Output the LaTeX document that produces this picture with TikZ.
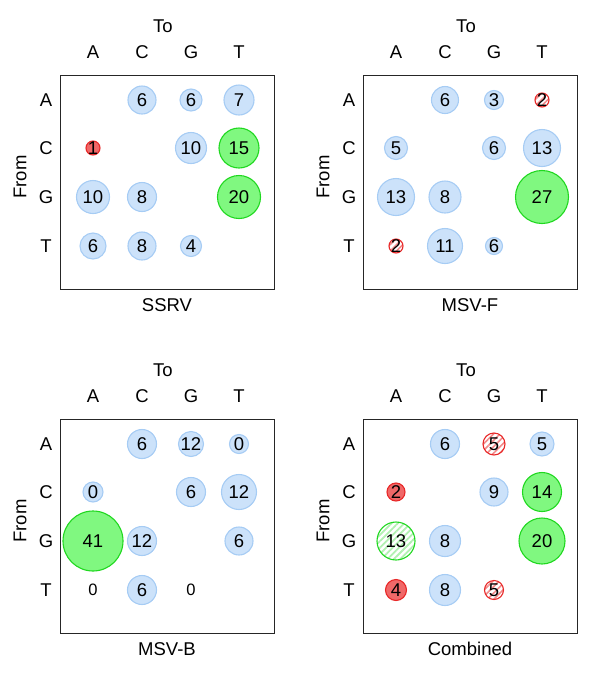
\documentclass[tikz,border=0pt]{standalone}
\usepackage{fontspec}
\setmainfont{Liberation Sans}
\usetikzlibrary{patterns.meta}
\definecolor{bfill}{HTML}{CCE2FA}
\definecolor{bline}{HTML}{A6CCF4}
\definecolor{gfill}{HTML}{80F880}
\definecolor{gline}{HTML}{20D820}
\definecolor{rfill}{HTML}{F06868}
\definecolor{rline}{HTML}{E82828}
\tikzset{
  lbl/.style={font=\fontsize{18.5}{21}\selectfont, inner sep=0pt},
  num/.style={font=\fontsize{18.5}{21}\selectfont, inner sep=0pt},
  zero/.style={font=\fontsize{16.5}{19}\selectfont, inner sep=0pt},
  bubble/.style={circle, inner sep=0pt, line width=1.1pt},
  bl/.style={bubble, draw=bline, fill=bfill},
  gr/.style={bubble, draw=gline, fill=gfill},
  rd/.style={bubble, draw=rline, fill=rfill},
  rh/.style={bubble, draw=rline, fill=white, pattern={Lines[angle=45,distance=4.5pt,line width=1.6pt]}, pattern color=rline!55},
  gh/.style={bubble, draw=gline, fill=white, pattern={Lines[angle=45,distance=4.5pt,line width=1.8pt]}, pattern color=gline!35},
  frame/.style={draw=black!85, line width=0.9pt, inner sep=0pt, minimum size=214pt},
}
% style, name, x, y, diameter, text
\newcommand\bub[6]{\node[#1, minimum size=#5pt] (#2) at (#3,#4) {}; \node[num] (#2t) at (#2) {#6};}
\def\cA{93}\def\cC{142}\def\cG{191}\def\cT{239}
\def\rA{100}\def\rC{148}\def\rG{197}\def\rT{246}
\newcommand\panelframe[2]{%
  \node[frame] (#1box) at (167,182) {};
  \node[lbl] (#1to) at (163,26) {To};
  \node[lbl] (#1hA) at (\cA,52) {A};
  \node[lbl] (#1hC) at (\cC,52) {C};
  \node[lbl] (#1hG) at (\cG,52) {G};
  \node[lbl] (#1hT) at (\cT,52) {T};
  \node[lbl] (#1vA) at (46,\rA) {A};
  \node[lbl] (#1vC) at (46,\rC) {C};
  \node[lbl] (#1vG) at (46,\rG) {G};
  \node[lbl] (#1vT) at (46,\rT) {T};
  \node[lbl, rotate=90] (#1from) at (20,177) {From};
  \node[lbl] (#1title) at (167,305) {#2};
}
\begin{document}
\begin{tikzpicture}[x=1pt,y=-1pt]
\useasboundingbox (0,0) rectangle (600,673);
% Panel 1: SSRV
\begin{scope}
\panelframe{p}{SSRV}
\bub{bl}{pAC}{\cC}{\rA}{28}{6}
\bub{bl}{pAG}{\cG}{\rA}{22}{6}
\bub{bl}{pAT}{\cT}{\rA}{30}{7}
\bub{rd}{pCA}{\cA}{\rC}{14}{1}
\bub{bl}{pCG}{\cG}{\rC}{31}{10}
\bub{gr}{pCT}{\cT}{\rC}{40}{15}
\bub{bl}{pGA}{\cA}{\rG}{33}{10}
\bub{bl}{pGC}{\cC}{\rG}{29}{8}
\bub{gr}{pGT}{\cT}{\rG}{43}{20}
\bub{bl}{pTA}{\cA}{\rT}{26}{6}
\bub{bl}{pTC}{\cC}{\rT}{28}{8}
\bub{bl}{pTG}{\cG}{\rT}{21}{4}
\end{scope}
% Panel 2: MSV-F
\begin{scope}[shift={(303,0)}]
\panelframe{q}{MSV-F}
\bub{bl}{qAC}{\cC}{\rA}{27}{6}
\bub{bl}{qAG}{\cG}{\rA}{19}{3}
\bub{rh}{qAT}{\cT}{\rA}{14}{2}
\bub{bl}{qCA}{\cA}{\rC}{23}{5}
\bub{bl}{qCG}{\cG}{\rC}{23}{6}
\bub{bl}{qCT}{\cT}{\rC}{37}{13}
\bub{bl}{qGA}{\cA}{\rG}{37}{13}
\bub{bl}{qGC}{\cC}{\rG}{32}{8}
\bub{gr}{qGT}{\cT}{\rG}{53}{27}
\bub{rh}{qTA}{\cA}{\rT}{14}{2}
\bub{bl}{qTC}{\cC}{\rT}{35}{11}
\bub{bl}{qTG}{\cG}{\rT}{17}{6}
\end{scope}
% Panel 3: MSV-B
\begin{scope}[shift={(0,344)}]
\panelframe{r}{MSV-B}
\bub{bl}{rAC}{\cC}{\rA}{29}{6}
\bub{bl}{rAG}{\cG}{\rA}{25}{12}
\bub{bl}{rAT}{\cT}{\rA}{19}{0}
\bub{bl}{rCA}{\cA}{\rC}{20}{0}
\bub{bl}{rCG}{\cG}{\rC}{29}{6}
\bub{bl}{rCT}{\cT}{\rC}{35}{12}
\bub{gr}{rGA}{\cA}{\rG}{60}{41}
\bub{bl}{rGC}{\cC}{\rG}{29}{12}
\bub{bl}{rGT}{\cT}{\rG}{28}{6}
\node[zero] (rTA) at (\cA,\rT) {0};
\bub{bl}{rTC}{\cC}{\rT}{29}{6}
\node[zero] (rTG) at (\cG,\rT) {0};
\end{scope}
% Panel 4: Combined
\begin{scope}[shift={(303,344)}]
\panelframe{s}{Combined}
\bub{bl}{sAC}{\cC}{\rA}{29}{6}
\bub{rh}{sAG}{\cG}{\rA}{22}{5}
\bub{bl}{sAT}{\cT}{\rA}{24}{5}
\bub{rd}{sCA}{\cA}{\rC}{18}{2}
\bub{bl}{sCG}{\cG}{\rC}{28}{9}
\bub{gr}{sCT}{\cT}{\rC}{39}{14}
\bub{gh}{sGA}{\cA}{\rG}{38}{13}
\bub{bl}{sGC}{\cC}{\rG}{31}{8}
\bub{gr}{sGT}{\cT}{\rG}{46}{20}
\bub{rd}{sTA}{\cA}{\rT}{21}{4}
\bub{bl}{sTC}{\cC}{\rT}{31}{8}
\bub{rh}{sTG}{\cG}{\rT}{19}{5}
\end{scope}
\end{tikzpicture}
\end{document}
